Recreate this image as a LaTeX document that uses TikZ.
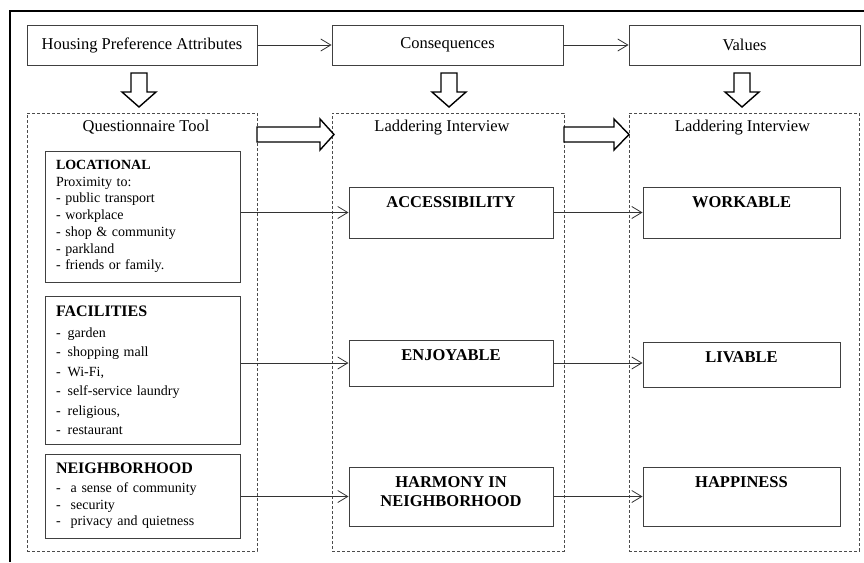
\documentclass[tikz,border=0pt]{standalone}
\usepackage{fontspec}
\setmainfont{Liberation Serif}
\usetikzlibrary{arrows.meta,calc}

\tikzset{
  topbox/.style={draw=black!75, line width=1pt, minimum width=230pt, minimum height=40pt,
    inner sep=0pt, font=\fontsize{16.5}{19}\selectfont},
  stage/.style={draw=black!70, dash pattern=on 3pt off 2pt, line width=0.8pt,
    minimum height=438pt, inner sep=0pt},
  stagetitle/.style={anchor=base, font=\fontsize{16.5}{19}\selectfont},
  attrbox/.style={draw=black!75, line width=1pt, text width=173pt, inner xsep=11pt,
    inner ysep=0pt, align=left, font=\fontsize{14}{16.7}\selectfont},
  ladbox/.style={draw=black!75, line width=1pt, inner sep=0pt},
  ladtext/.style={label={[anchor=north, yshift=-9.5pt, inner sep=0pt, align=center,
    font=\fontsize{16.5}{19.6}\selectfont\bfseries]north:{#1}}},
  link/.style={draw=black!80, line width=0.8pt, -{Straight Barb[length=10pt,width=12pt]}},
  fat/.style={draw=black, line width=1.4pt, fill=white, line join=miter},
}

\begin{document}
\begin{tikzpicture}[x=1pt, y=-1pt]
  \useasboundingbox (0,0) rectangle (864,562);
% Outer frame (cut at right and bottom)
  \draw[line width=2pt] (10,562) -- (10,11) -- (864,11);

% Top row
  \node[topbox] (hpa) at (142,45) {Housing Preference Attributes};
  \node[topbox, minimum width=231pt] (cons) at (447.5,45) {Consequences};
  \node[topbox, minimum width=231pt] (vals) at (744.5,45) {Values};
  \draw[link] (hpa) -- (cons);
  \draw[link] (cons) -- (vals);

% Block arrows down
  \draw[fat] (131,73) -- (147,73) -- (147,92) -- (156,92) -- (139,107)
    -- (122,92) -- (131,92) -- cycle;
  \draw[fat] (441,73) -- (457,73) -- (457,92) -- (466,92) -- (449,107)
    -- (432,92) -- (441,92) -- cycle;
  \draw[fat] (734,73) -- (750,73) -- (750,92) -- (759,92) -- (742,107)
    -- (725,92) -- (734,92) -- cycle;

% Dashed stages
  \node[stage, minimum width=230pt] (qtool) at (142,332) {};
  \node[stage, minimum width=232pt] (lad1) at (448,332) {};
  \node[stage, minimum width=230pt] (lad2) at (744,332) {};
  \node[stagetitle] (qtitle) at (146,131.5) {Questionnaire Tool};
  \node[stagetitle] (l1title) at (442,131.5) {Laddering Interview};
  \node[stagetitle] (l2title) at (742.5,131.5) {Laddering Interview};

% Block arrows right
  \draw[fat] (257,127) -- (320,127) -- (320,119) -- (334,134.5) -- (320,150)
    -- (320,142) -- (257,142) -- cycle;
  \draw[fat] (564,127) -- (614,127) -- (614,119) -- (629,134.5) -- (614,150)
    -- (614,142) -- (564,142) -- cycle;

% Questionnaire attributes
  \node[attrbox, minimum height=131pt] (loc) at (142.5,216.5)
    {\textbf{LOCATIONAL}\\ Proximity to:\\ - public transport\\ - workplace\\
     - shop \& community\\ - parkland\\ - friends or family.};
  \node[attrbox, minimum height=148pt, font=\fontsize{14}{19.4}\selectfont] (fac) at (142.5,370)
    {{\fontsize{16}{19}\selectfont\textbf{FACILITIES}}\\[2pt]
     -\hspace{7pt}garden\\ -\hspace{7pt}shopping mall\\ -\hspace{7pt}Wi-Fi,\\
     -\hspace{7pt}self-service laundry\\ -\hspace{7pt}religious,\\ -\hspace{7pt}restaurant};
  \node[attrbox, minimum height=84pt] (nei) at (142.5,496)
    {{\fontsize{16}{19}\selectfont\textbf{NEIGHBORHOOD}}\\[2pt]
     -\hspace{10pt}a sense of community\\ -\hspace{10pt}security\\
     -\hspace{10pt}privacy and quietness};

% Consequences
  \node[ladbox, minimum width=204pt, minimum height=51pt, ladtext={ACCESSIBILITY}] (acc) at (451,212.5) {};
  \node[ladbox, minimum width=204pt, minimum height=46pt, ladtext={ENJOYABLE}] (enj) at (451,363) {};
  \node[ladbox, minimum width=204pt, minimum height=59pt, ladtext={HARMONY IN\\NEIGHBORHOOD}] (har) at (451,496.5) {};

% Values
  \node[ladbox, minimum width=197pt, minimum height=51pt, ladtext={WORKABLE}] (wor) at (741.5,212.5) {};
  \node[ladbox, minimum width=197pt, minimum height=45pt, ladtext={LIVABLE}] (liv) at (741.5,364.5) {};
  \node[ladbox, minimum width=197pt, minimum height=59pt, ladtext={HAPPINESS}] (hap) at (741.5,496.5) {};

% Links
  \draw[link] (loc.east |- acc.west) -- (acc.west);
  \draw[link] (fac.east |- enj.west) -- (enj.west);
  \draw[link] (nei.east |- har.west) -- (har.west);
  \draw[link] (acc.east) -- (acc.east -| wor.west);
  \draw[link] (enj.east) -- (enj.east -| liv.west);
  \draw[link] (har.east) -- (har.east -| hap.west);
\end{tikzpicture}
\end{document}
